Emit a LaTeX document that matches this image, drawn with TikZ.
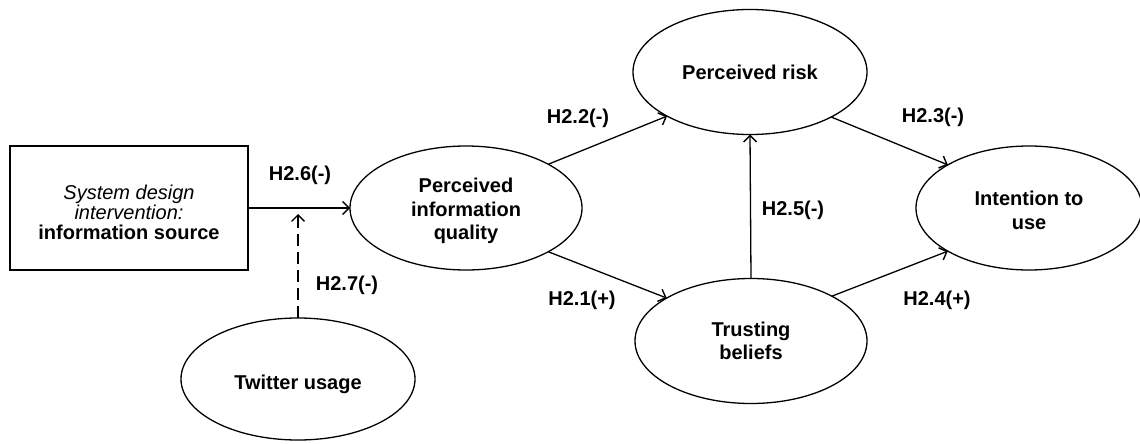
\documentclass[tikz,border=0pt]{standalone}
\usepackage{fontspec}
\setmainfont{Liberation Sans}
\usetikzlibrary{arrows.meta,shapes.geometric}
\begin{document}
\begin{tikzpicture}[x=1pt,y=1pt,
  lw/.style={line width=1.3pt},
  construct/.style={ellipse, draw, lw, inner sep=0pt, outer sep=0pt,
    align=center, font=\fontsize{20}{23.5}\selectfont\bfseries},
  hyp/.style={font=\fontsize{20}{23}\selectfont\bfseries, inner sep=0pt},
  arr/.style={lw, -{Straight Barb[length=6.5pt,width=13pt,line width=1.4pt]}}
]
\useasboundingbox (0,0) rectangle (1140,-444);

% exogenous design factor
\node[draw, lw, minimum width=238pt, minimum height=124pt, inner sep=0pt,
  outer sep=0pt, align=center, font=\fontsize{20}{20}\selectfont]
  (src) at (129,-208) {\rule{0pt}{24pt}\itshape System design\\\itshape intervention:\\\bfseries information source};

% latent constructs
\node[construct, minimum width=232pt, minimum height=124pt] (piq) at (466,-208)
  {\rule{0pt}{21pt}Perceived\\information\\quality};
\node[construct, minimum width=234pt, minimum height=125pt] (risk) at (750,-72)
  {\rule{0pt}{16pt}Perceived risk};
\node[construct, minimum width=232pt, minimum height=125pt] (trust) at (751,-341)
  {Trusting\\beliefs};
\node[construct, minimum width=226pt, minimum height=124pt] (intent) at (1029,-208)
  {\rule{0pt}{19pt}Intention to\\use};
\node[construct, minimum width=234pt, minimum height=122pt] (tw) at (298,-379)
  {\rule{0pt}{26pt}Twitter usage};

% paths
\draw[arr] (src.east) -- (piq.west);
\coordinate (mod) at (298,-214);
\draw[arr, dash pattern=on 12pt off 6pt] (tw.north) -- (mod);
\draw[arr] (piq.28) -- (risk.208.5);
\draw[arr] (piq.332) -- (trust.153);
\draw[arr] (trust.north) -- (risk.south);
\draw[arr] (risk.331.5) -- (intent.152);
\draw[arr] (trust.29) -- (intent.208.5);

% hypothesis labels
\node[hyp] (h26) at (300,-175) {H2.6(-)};
\node[hyp] (h27) at (347,-285) {H2.7(-)};
\node[hyp] (h22) at (578,-118) {H2.2(-)};
\node[hyp] (h21) at (582,-300) {H2.1(+)};
\node[hyp] (h25) at (793,-210) {H2.5(-)};
\node[hyp] (h23) at (933,-117) {H2.3(-)};
\node[hyp] (h24) at (937,-300) {H2.4(+)};
\end{tikzpicture}
\end{document}
